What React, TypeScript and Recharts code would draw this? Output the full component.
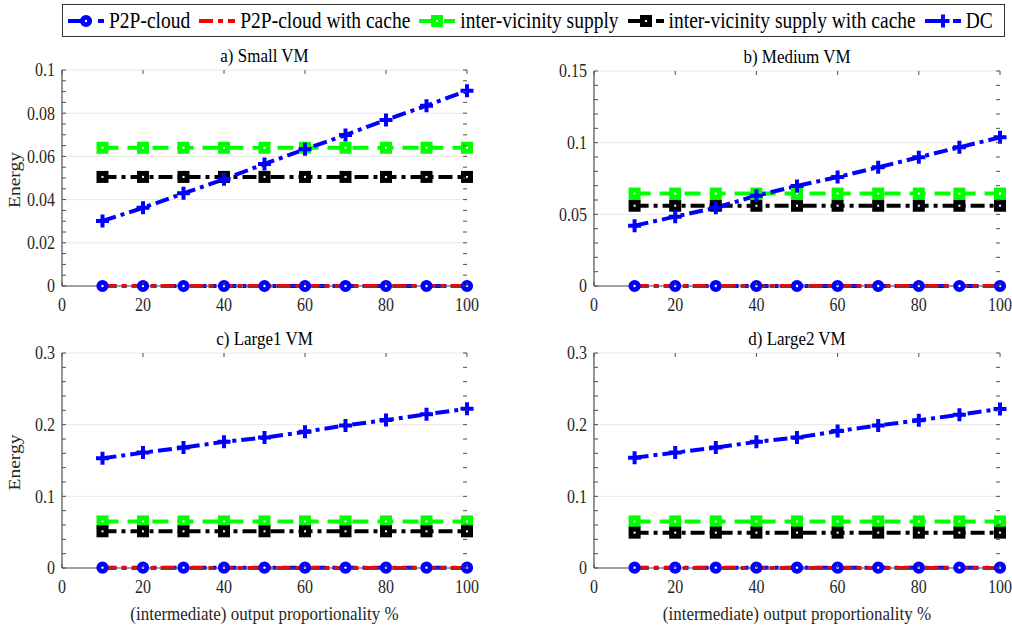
import { LineChart, Line, XAxis, YAxis, CartesianGrid } from 'recharts';

const proportion = [10, 20, 30, 40, 50, 60, 70, 80, 90, 100];
const xTicks = [0, 20, 40, 60, 80, 100];

// a) Small VM
const smallP2P = [0, 0, 0, 0, 0, 0, 0, 0, 0, 0];
const smallP2PCache = [0, 0, 0, 0, 0, 0, 0, 0, 0, 0];
const smallInter = [0.064, 0.064, 0.064, 0.064, 0.064, 0.064, 0.064, 0.064, 0.064, 0.064];
const smallInterCache = [0.0505, 0.0505, 0.0505, 0.0505, 0.0505, 0.0505, 0.0505, 0.0505, 0.0505, 0.0505];
const smallDC = [0.0301, 0.0362, 0.0429, 0.0494, 0.0565, 0.0633, 0.0699, 0.0769, 0.0835, 0.0904];

// b) Medium VM
const mediumP2P = [0, 0, 0, 0, 0, 0, 0, 0, 0, 0];
const mediumP2PCache = [0, 0, 0, 0, 0, 0, 0, 0, 0, 0];
const mediumInter = [0.0645, 0.0645, 0.0645, 0.0645, 0.0645, 0.0645, 0.0645, 0.0645, 0.0645, 0.0645];
const mediumInterCache = [0.056, 0.056, 0.056, 0.056, 0.056, 0.056, 0.056, 0.056, 0.056, 0.056];
const mediumDC = [0.0421, 0.0484, 0.0546, 0.063, 0.0698, 0.076, 0.0828, 0.0898, 0.0968, 0.1037];

// c) Large1 VM
const large1P2P = [0.0005, 0.0005, 0.0005, 0.0005, 0.0005, 0.0005, 0.0005, 0.0005, 0.0005, 0.0005];
const large1P2PCache = [0, 0, 0, 0, 0, 0, 0, 0, 0, 0];
const large1Inter = [0.065, 0.065, 0.065, 0.065, 0.065, 0.065, 0.065, 0.065, 0.065, 0.065];
const large1InterCache = [0.0512, 0.0512, 0.0512, 0.0512, 0.0512, 0.0512, 0.0512, 0.0512, 0.0512, 0.0512];
const large1DC = [0.153, 0.161, 0.168, 0.176, 0.182, 0.19, 0.199, 0.2065, 0.2144, 0.2223];

// d) Large2 VM
const large2P2P = [0.0005, 0.0005, 0.0005, 0.0005, 0.0005, 0.0005, 0.0005, 0.0005, 0.0005, 0.0005];
const large2P2PCache = [0, 0, 0, 0, 0, 0, 0, 0, 0, 0];
const large2Inter = [0.065, 0.065, 0.065, 0.065, 0.065, 0.065, 0.065, 0.065, 0.065, 0.065];
const large2InterCache = [0.0493, 0.0493, 0.0493, 0.0493, 0.0493, 0.0493, 0.0493, 0.0493, 0.0493, 0.0493];
const large2DC = [0.154, 0.161, 0.168, 0.176, 0.182, 0.191, 0.199, 0.206, 0.214, 0.222];

const smallMajor = [0, 0.02, 0.04, 0.06, 0.08, 0.1];
const mediumMajor = [0, 0.05, 0.1, 0.15];
const largeMajor = [0, 0.1, 0.2, 0.3];

const FONT = '"Liberation Serif", "Times New Roman", serif';
const AXIS = '#4d4d4d';
const TEXT = '#262626';
const STRETCH = 1.15;
const Y_AXIS_W = 62;
const PAD_TOP = 10;
const PAD_RIGHT = 20;
const X_AXIS_H = 30;
const LINE_W = 4;

type MarkerKind = 'circle' | 'square' | 'plus' | 'none';

const SERIES: { key: string; name: string; color: string; dash: string; marker: MarkerKind }[] = [
  { key: 'p2p', name: 'P2P-cloud', color: '#0000ff', dash: '14 6 4 6', marker: 'circle' },
  { key: 'p2pCache', name: 'P2P-cloud with cache', color: '#ff0000', dash: '14 5 5 5', marker: 'none' },
  { key: 'inter', name: 'inter-vicinity supply', color: '#00ff00', dash: '16 9', marker: 'square' },
  { key: 'interCache', name: 'inter-vicinity supply with cache', color: '#000000', dash: '14 5 4 5', marker: 'square' },
  { key: 'dc', name: 'DC', color: '#0000ff', dash: '14 5 4 5', marker: 'plus' },
];

// thick-edged markers: nearly solid, with a pin-hole centre
function Marker({ cx, cy, kind, color }: { cx: number; cy: number; kind: MarkerKind; color: string }) {
  if (kind === 'circle') {
    return (
      <g>
        <circle cx={cx} cy={cy} r={4.6} fill={color} stroke={color} strokeWidth={3} />
        <circle cx={cx} cy={cy} r={1.2} fill="#fff" />
      </g>
    );
  }
  if (kind === 'square') {
    return (
      <g>
        <rect x={cx - 4} y={cy - 4} width={8} height={8} fill={color} stroke={color} strokeWidth={4} />
        <rect x={cx - 1} y={cy - 1} width={2} height={2} fill="#fff" />
      </g>
    );
  }
  if (kind === 'plus') {
    return (
      <path
        d={`M${cx - 6.5},${cy}H${cx + 6.5}M${cx},${cy - 6.5}V${cy + 6.5}`}
        stroke={color}
        strokeWidth={4}
        fill="none"
      />
    );
  }
  return null;
}

function minorTicks(max: number, step: number) {
  const out: number[] = [];
  for (let i = 0; i * step <= max + 1e-9; i++) out.push(Number((i * step).toFixed(4)));
  return out;
}

const fmt = (v: number) => String(Number(v.toFixed(3)));

interface PanelProps {
  title: string;
  left: number;
  top: number;
  w: number;
  h: number;
  yMax: number;
  major: number[];
  minorStep: number;
  values: Record<string, number[]>;
  yLabel?: boolean;
  xLabel?: boolean;
}

function Panel({ title, left, top, w, h, yMax, major, minorStep, values, yLabel, xLabel }: PanelProps) {
  const data = proportion.map((x, i) => {
    const row: Record<string, number> = { x };
    SERIES.forEach((s) => {
      row[s.key] = values[s.key][i];
    });
    return row;
  });
  const yTicks = minorTicks(yMax, minorStep);
  const chartW = Y_AXIS_W + w + PAD_RIGHT;
  const chartH = PAD_TOP + h + X_AXIS_H;
  const bottom = PAD_TOP + h;
  const rightX = Y_AXIS_W + w;

  const XTick = (props: any) => {
    const { x, payload } = props;
    return (
      <g>
        <line x1={x} x2={x} y1={bottom} y2={bottom - 4} stroke={AXIS} />
        <line x1={x} x2={x} y1={PAD_TOP} y2={PAD_TOP + 4} stroke={AXIS} />
        <text
          transform={`translate(${x},${bottom + 12}) scale(1,${STRETCH})`}
          textAnchor="middle"
          dy="0.71em"
          fontSize={16}
          fontFamily={FONT}
          fill={TEXT}
        >
          {payload.value}
        </text>
      </g>
    );
  };

  const YTick = (props: any) => {
    const { y, payload } = props;
    const isMajor = major.some((m) => Math.abs(m - payload.value) < 1e-9);
    return (
      <g>
        <line x1={Y_AXIS_W} x2={Y_AXIS_W + 4} y1={y} y2={y} stroke={AXIS} />
        <line x1={rightX} x2={rightX - 4} y1={y} y2={y} stroke={AXIS} />
        {isMajor && (
          <text
            transform={`translate(${Y_AXIS_W - 7},${y}) scale(1,${STRETCH})`}
            textAnchor="end"
            dy="0.35em"
            fontSize={16}
            fontFamily={FONT}
            fill={TEXT}
          >
            {fmt(payload.value)}
          </text>
        )}
      </g>
    );
  };

  return (
    <>
      <div style={{ position: 'absolute', left: left - Y_AXIS_W, top: top - PAD_TOP }}>
        <LineChart
          width={chartW}
          height={chartH}
          data={data}
          margin={{ top: PAD_TOP, right: PAD_RIGHT, left: 0, bottom: 0 }}
        >
          <CartesianGrid vertical={false} horizontalValues={major} stroke="#e9e9e9" strokeWidth={1} />
          <XAxis
            dataKey="x"
            type="number"
            domain={[0, 100]}
            ticks={xTicks}
            interval={0}
            height={X_AXIS_H}
            tickSize={0}
            tickMargin={12}
            tickLine={false}
            axisLine={{ stroke: AXIS, strokeWidth: 1.2 }}
            tick={XTick}
          />
          <XAxis
            xAxisId="top"
            orientation="top"
            dataKey="x"
            type="number"
            domain={[0, 100]}
            height={0}
            tick={false}
            tickLine={false}
            axisLine={{ stroke: AXIS, strokeWidth: 1.2 }}
          />
          <YAxis
            type="number"
            domain={[0, yMax]}
            ticks={yTicks}
            interval={0}
            width={Y_AXIS_W}
            tickSize={0}
            tickMargin={7}
            tickLine={false}
            axisLine={{ stroke: AXIS, strokeWidth: 1.2 }}
            tick={YTick}
          />
          <YAxis
            yAxisId="right"
            orientation="right"
            type="number"
            domain={[0, yMax]}
            width={0}
            tick={false}
            tickLine={false}
            axisLine={{ stroke: AXIS, strokeWidth: 1.2 }}
          />
          {SERIES.map((s) => (
            <Line
              key={s.key}
              dataKey={s.key}
              name={s.name}
              type="linear"
              stroke={s.color}
              strokeWidth={LINE_W}
              strokeDasharray={s.dash}
              isAnimationActive={false}
              activeDot={false}
              dot={
                s.marker === 'none'
                  ? false
                  : (p: any) => (
                      <Marker key={`${s.key}-${p.index}`} cx={p.cx} cy={p.cy} kind={s.marker} color={s.color} />
                    )
              }
            />
          ))}
        </LineChart>
      </div>
      <svg
        width={1012}
        height={628}
        style={{ position: 'absolute', left: 0, top: 0, pointerEvents: 'none' }}
      >
        <text
          transform={`translate(${left + w / 2},${top - 15}) scale(1,${STRETCH})`}
          textAnchor="middle"
          dy="0.35em"
          fontSize={17}
          fontFamily={FONT}
          fill="#000"
        >
          {title}
        </text>
        {yLabel && (
          <text
            transform={`translate(14,${top + h / 2 + 2}) scale(1,${STRETCH}) rotate(-90)`}
            textAnchor="middle"
            dy="0.35em"
            fontSize={17}
            fontFamily={FONT}
            fill={TEXT}
          >
            Energy
          </text>
        )}
        {xLabel && (
          <text
            transform={`translate(${left + w / 2},${top + h + 45}) scale(1,${STRETCH})`}
            textAnchor="middle"
            dy="0.35em"
            fontSize={17}
            fontFamily={FONT}
            fill={TEXT}
          >
            (intermediate) output proportionality %
          </text>
        )}
      </svg>
    </>
  );
}

function LegendBox() {
  return (
    <div
      style={{
        position: 'absolute',
        left: 62,
        top: 4,
        width: 937,
        height: 31,
        border: '1px solid #333',
        background: '#fff',
        display: 'flex',
        alignItems: 'center',
        paddingLeft: 4,
        fontFamily: FONT,
        fontSize: 19.5,
        color: '#000',
        whiteSpace: 'nowrap',
      }}
    >
      {SERIES.map((s) => (
        <div key={s.key} style={{ display: 'flex', alignItems: 'center', marginRight: 8 }}>
          <svg width={38} height={20}>
            <line x1={1} x2={37} y1={10} y2={10} stroke={s.color} strokeWidth={LINE_W} strokeDasharray={s.dash} />
            <Marker cx={19} cy={10} kind={s.marker} color={s.color} />
          </svg>
          <span style={{ marginLeft: 4, display: 'inline-block', transform: `scaleY(${STRETCH})` }}>{s.name}</span>
        </div>
      ))}
    </div>
  );
}

export default function App() {
  return (
    <div
      style={{
        position: 'absolute',
        left: 0,
        top: 0,
        width: 1012,
        height: 628,
        overflow: 'hidden',
        background: '#fff',
      }}
    >
      <Panel
        title="a) Small VM"
        left={62}
        top={70}
        w={405}
        h={216}
        yMax={0.1}
        major={smallMajor}
        minorStep={0.005}
        values={{ p2p: smallP2P, p2pCache: smallP2PCache, inter: smallInter, interCache: smallInterCache, dc: smallDC }}
        yLabel
      />
      <Panel
        title="b) Medium VM"
        left={594}
        top={71}
        w={406}
        h={215}
        yMax={0.15}
        major={mediumMajor}
        minorStep={0.01}
        values={{ p2p: mediumP2P, p2pCache: mediumP2PCache, inter: mediumInter, interCache: mediumInterCache, dc: mediumDC }}
      />
      <Panel
        title="c) Large1 VM"
        left={62}
        top={353}
        w={405}
        h={215}
        yMax={0.3}
        major={largeMajor}
        minorStep={0.02}
        values={{ p2p: large1P2P, p2pCache: large1P2PCache, inter: large1Inter, interCache: large1InterCache, dc: large1DC }}
        yLabel
        xLabel
      />
      <Panel
        title="d) Large2 VM"
        left={594}
        top={353}
        w={406}
        h={215}
        yMax={0.3}
        major={largeMajor}
        minorStep={0.02}
        values={{ p2p: large2P2P, p2pCache: large2P2PCache, inter: large2Inter, interCache: large2InterCache, dc: large2DC }}
        xLabel
      />
      <LegendBox />
    </div>
  );
}
